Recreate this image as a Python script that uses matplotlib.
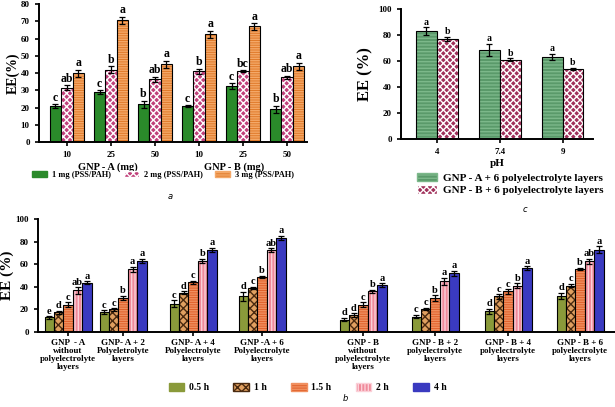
import matplotlib
matplotlib.use('Agg')
import matplotlib.pyplot as plt
from matplotlib.patches import Patch

plt.rcParams['font.family'] = 'Liberation Serif'
plt.rcParams['font.weight'] = 'bold'
plt.rcParams['hatch.linewidth'] = 1.0

# ---- panel a data ----
a_ticks = ['10', '25', '50', '10', '25', '50']
a_series = ['1 mg (PSS/PAH)', '2 mg (PSS/PAH)', '3 mg (PSS/PAH)']
a_1mg = [21, 29, 22, 20.7, 32.5, 19]
a_2mg = [31.5, 42, 36.5, 41, 41, 37.5]
a_3mg = [40, 70.7, 45, 62.4, 67, 44]
a_err_1mg = [1, 1, 2, 0.5, 1.5, 2]
a_err_2mg = [1.5, 2, 1.5, 1.5, 0.5, 1]
a_err_3mg = [2, 2, 2, 2, 2, 2]
a_let_1mg = ['c', 'c', 'b', 'c', 'c', 'b']
a_let_2mg = ['ab', 'b', 'ab', 'b', 'bc', 'ab']
a_let_3mg = ['a', 'a', 'a', 'a', 'a', 'a']

# ---- panel c data ----
c_ph = ['4', '7.4', '9']
c_series = ['GNP - A + 6 polyelectrolyte layers', 'GNP - B + 6 polyelectrolyte layers']
c_gnpa = [82.8, 68.7, 63]
c_gnpb = [77, 61, 54]
c_err_a = [3, 4.5, 2.5]
c_err_b = [1.5, 1, 1]
c_let_a = ['a', 'a', 'a']
c_let_b = ['b', 'b', 'b']

# ---- panel b data ----
b_groups = ['GNP  - A\nwithout\npolyelectrolyte\nlayers',
            'GNP- A + 2\nPolyeletrolyte\nlayers',
            'GNP- A + 4\nPolyelectrolyte\nlayers',
            'GNP -A + 6\nPolyelectrolyte\nlayers',
            'GNP - B\nwithout\npolyelectrolyte\nlayers',
            'GNP - B + 2\npolyelectrolyte\nlayers',
            'GNP - B + 4\npolyelectrolyte\nlayers',
            'GNP - B + 6\npolyelectrolyte\nlayers']
b_times = ['0.5 h', '1 h', '1.5 h', '2 h', '4 h']
b_05h = [13, 17.8, 25, 31.5, 11, 13.6, 18.4, 32]
b_1h = [17.5, 20, 35, 39, 15, 20.5, 31.5, 41]
b_15h = [24.3, 30, 44, 48.7, 24.3, 30, 36, 56]
b_2h = [36.8, 55.5, 63, 72.4, 36, 45, 41, 62.6]
b_4h = [43.6, 63, 72.4, 83, 41.5, 52, 56.7, 73]
b_err_05h = [1, 1.5, 3, 4, 1.5, 1.5, 2, 3]
b_err_1h = [1.5, 1, 1, 1, 1.5, 1, 2, 1.5]
b_err_15h = [2, 2, 1.5, 1, 2, 2.5, 2, 1]
b_err_2h = [3, 2, 2, 1.5, 1.5, 3, 2, 2]
b_err_4h = [1.5, 2, 2, 2, 1.5, 2, 1.5, 3]
b_let_05h = ['e', 'c', 'c', 'd', 'd', 'c', 'd', 'd']
b_let_1h = ['d', 'c', 'd', 'c', 'd', 'c', 'c', 'c']
b_let_15h = ['c', 'b', 'c', 'b', 'c', 'b', 'c', 'b']
b_let_2h = ['ab', 'a', 'b', 'ab', 'b', 'a', 'b', 'ab']
b_let_4h = ['a', 'a', 'a', 'a', 'a', 'a', 'a', 'a']


def hatched_bars(ax, x, h, err, w, fc, hc, hatch):
    ax.bar(x, h, w, color=fc, edgecolor=hc, hatch=hatch, linewidth=0)
    ax.bar(x, h, w, fill=False, edgecolor='black', linewidth=0.8)
    ax.errorbar(x, h, yerr=err, fmt='none', ecolor='black', elinewidth=0.9,
                capsize=2, capthick=0.9)


def letters(ax, x, h, err, labs, size, pad):
    for xi, hi, ei, s in zip(x, h, err, labs):
        ax.text(xi, hi + ei + pad, s, ha='center', va='bottom', fontsize=size,
                fontweight='bold')


def style_axis(ax, tsize):
    for s in ['top', 'right']:
        ax.spines[s].set_visible(False)
    for s in ['left', 'bottom']:
        ax.spines[s].set_linewidth(1.4)
    ax.tick_params(direction='out', width=1.2, length=3, labelsize=tsize)
    for t in ax.get_xticklabels() + ax.get_yticklabels():
        t.set_fontweight('bold')


fig = plt.figure(figsize=(6.15, 4.07), dpi=100)

# ================= panel a =================
axa = fig.add_axes([0.063, 0.651, 0.436, 0.339])
xa = list(range(len(a_ticks)))
wa = 0.26
a_cols = [('#2a8a2a', '#2a8a2a', ''), ('#c0407a', 'white', 'xxxxx'),
          ('#e07a2a', '#f4a868', '-------')]
for k, (vals, errs, labs) in enumerate(zip([a_1mg, a_2mg, a_3mg],
                                           [a_err_1mg, a_err_2mg, a_err_3mg],
                                           [a_let_1mg, a_let_2mg, a_let_3mg])):
    xs = [x + (k - 1) * wa for x in xa]
    fc, hc, hatch = a_cols[k]
    hatched_bars(axa, xs, vals, errs, wa, fc, hc, hatch)
    letters(axa, xs, vals, errs, labs, 8.5, 0.3)
axa.set_xlim(-0.64, 5.45)
axa.set_ylim(0, 80)
axa.set_yticks(range(0, 81, 10))
axa.set_xticks(xa)
axa.set_xticklabels(a_ticks)
axa.set_ylabel('EE(%)', fontsize=10, fontweight='bold', labelpad=1)
style_axis(axa, 6.5)
axa.text(0.93, -0.145, 'GNP - A (mg)', transform=axa.get_xaxis_transform(),
         ha='center', va='top', fontsize=7.5, fontweight='bold')
axa.text(3.8, -0.145, 'GNP - B (mg)', transform=axa.get_xaxis_transform(),
         ha='center', va='top', fontsize=7.5, fontweight='bold')
handles_a = [Patch(facecolor=fc, edgecolor=hc, hatch=h, label=l)
             for (fc, hc, h), l in zip(a_cols, a_series)]
fig.legend(handles=handles_a, loc='center', bbox_to_anchor=(0.265, 0.57),
           ncol=3, frameon=False, fontsize=6, handlelength=1.8, handleheight=0.8,
           columnspacing=1.5, handletextpad=0.6)
fig.text(0.277, 0.516, 'a', ha='center', va='center', fontsize=6,
         style='italic', family='DejaVu Sans', fontweight='normal')

# ================= panel c =================
axc = fig.add_axes([0.652, 0.658, 0.312, 0.320])
xc = list(range(len(c_ph)))
wc = 0.33
c_cols = [('#5a9a6a', '#7cb88a', '-----'), ('#a0305a', 'white', 'xxxxx')]
for k, (vals, errs, labs) in enumerate(zip([c_gnpa, c_gnpb], [c_err_a, c_err_b],
                                           [c_let_a, c_let_b])):
    xs = [x + (k - 0.5) * wc for x in xc]
    fc, hc, hatch = c_cols[k]
    hatched_bars(axc, xs, vals, errs, wc, fc, hc, hatch)
    letters(axc, xs, vals, errs, labs, 7, 0.5)
axc.set_xlim(-0.57, 2.48)
axc.set_ylim(0, 100)
axc.set_yticks(range(0, 101, 20))
axc.set_xticks(xc)
axc.set_xticklabels(c_ph)
axc.set_xlabel('pH', fontsize=8, fontweight='bold', labelpad=2)
axc.set_ylabel('EE (%)', fontsize=12, fontweight='bold', labelpad=4)
style_axis(axc, 6.5)
handles_c = [Patch(facecolor=fc, edgecolor=hc, hatch=h, label=l)
             for (fc, hc, h), l in zip(c_cols, c_series)]
fig.legend(handles=handles_c, loc='center', bbox_to_anchor=(0.83, 0.548),
           ncol=1, frameon=False, fontsize=8, handlelength=1.8, handleheight=0.8,
           handletextpad=0.5, labelspacing=0.2)
fig.text(0.854, 0.486, 'c', ha='center', va='center', fontsize=6,
         style='italic', family='DejaVu Sans', fontweight='normal')

# ================= panel b =================
axb = fig.add_axes([0.062, 0.184, 0.938, 0.278])
gx = [6.8, 12.3, 19.3, 26.2, 36.3, 43.5, 50.8, 58.0]
wb = 0.94
b_cols = [('#8a9a3a', '#8a9a3a', ''), ('#e0a060', '#4a2a10', 'xxxx'),
          ('#e0602a', '#f09060', '-------'), ('#f08a9a', '#fbd0d8', '|||||'),
          ('#3a3ac0', '#3a3ac0', '')]
b_vals = [b_05h, b_1h, b_15h, b_2h, b_4h]
b_errs = [b_err_05h, b_err_1h, b_err_15h, b_err_2h, b_err_4h]
b_lets = [b_let_05h, b_let_1h, b_let_15h, b_let_2h, b_let_4h]
for k in range(5):
    xs = [x + (k - 2) * wb for x in gx]
    fc, hc, hatch = b_cols[k]
    hatched_bars(axb, xs, b_vals[k], b_errs[k], wb, fc, hc, hatch)
    letters(axb, xs, b_vals[k], b_errs[k], b_lets[k], 7.5, 0.5)
axb.set_xlim(3.8, 61.5)
axb.set_ylim(0, 100)
axb.set_yticks(range(0, 101, 20))
axb.set_xticks(gx)
axb.set_xticklabels(b_groups, fontsize=6.5, linespacing=1.0)
axb.set_ylabel('EE (%)', fontsize=11, fontweight='bold', labelpad=1)
style_axis(axb, 6.5)
axb.tick_params(axis='x', labelsize=6.5, pad=2)
handles_b = [Patch(facecolor=fc, edgecolor=hc, hatch=h, label=l)
             for (fc, hc, h), l in zip(b_cols, b_times)]
fig.legend(handles=handles_b, loc='center', bbox_to_anchor=(0.5, 0.047),
           ncol=5, frameon=False, fontsize=7, handlelength=1.6, handleheight=0.8,
           columnspacing=2.5, handletextpad=0.5)
fig.text(0.561, 0.022, 'b', ha='center', va='center', fontsize=6,
         style='italic', family='DejaVu Sans', fontweight='normal')

fig.savefig('out.png', dpi=100)
